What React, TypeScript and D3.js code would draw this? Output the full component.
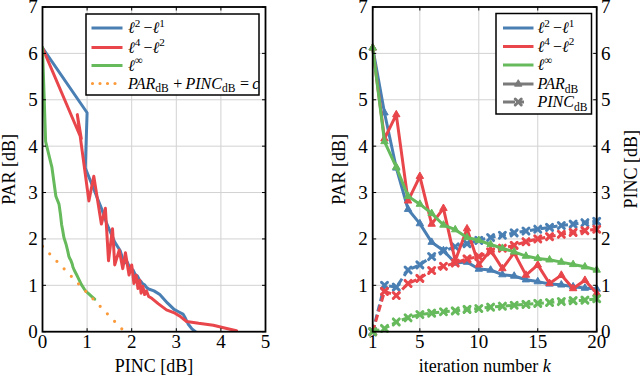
import React from 'react';
import * as d3 from 'd3';

// ---------- data ----------
const iterK = [1, 2, 3, 4, 5, 6, 7, 8, 9, 10, 11, 12, 13, 14, 15, 16, 17, 18, 19, 20];

const bluePar = [6.12, 4.72, 3.53, 2.64, 2.33, 1.93, 1.75, 1.48, 1.5, 1.35, 1.33, 1.23, 1.2, 1.12, 1.08, 1.03, 1.01, 0.97, 0.94, 0.92];
const bluePinc = [0, 1.0, 0.96, 1.33, 1.44, 1.62, 1.74, 1.83, 1.9, 1.97, 2.03, 2.08, 2.13, 2.17, 2.21, 2.25, 2.29, 2.32, 2.35, 2.38];
const redPar = [6.12, 4.16, 4.68, 2.82, 3.35, 2.32, 2.66, 1.53, 2.22, 1.44, 1.76, 1.36, 1.7, 1.22, 1.44, 1.04, 1.22, 0.93, 1.11, 0.83];
const redPinc = [0, 0.87, 0.78, 1.04, 1.15, 1.32, 1.41, 1.48, 1.57, 1.62, 1.72, 1.8, 1.86, 1.94, 2.0, 2.05, 2.1, 2.14, 2.18, 2.21];
const greenPar = [6.12, 4.1, 3.55, 2.92, 2.75, 2.55, 2.3, 2.2, 2.03, 1.97, 1.88, 1.8, 1.72, 1.63, 1.58, 1.55, 1.5, 1.45, 1.4, 1.33];
const greenPinc = [0, 0.07, 0.21, 0.3, 0.37, 0.4, 0.43, 0.45, 0.48, 0.5, 0.53, 0.55, 0.57, 0.59, 0.61, 0.63, 0.65, 0.67, 0.68, 0.71];

// later iterations (only shown in the PAR vs PINC trade-off plot)
const blueTailPinc = [2.5, 2.63, 2.8, 2.95, 3.05, 3.15, 3.2, 3.27, 3.35, 3.43];
const blueTailPar = [0.88, 0.8, 0.62, 0.48, 0.43, 0.38, 0.3, 0.16, 0.06, 0];
const redTailPinc = [2.25, 2.29, 2.33, 2.38, 2.45, 2.6, 2.78, 2.97, 3.1, 3.23, 3.5, 3.83, 4.13, 4.35];
const redTailPar = [0.98, 0.8, 0.88, 0.76, 0.72, 0.6, 0.47, 0.4, 0.32, 0.22, 0.18, 0.14, 0.07, 0.02];
const greenTailPinc = [0.78, 0.87, 0.95, 1.02, 1.1, 1.17];
const greenTailPar = [1.2, 1.02, 0.9, 0.83, 0.76, 0.7];

const boundPinc = [0, 1.84];
const boundPar = [1.84, 0];

const leftXTicks = [0, 1, 2, 3, 4, 5];
const rightXTicks = [1, 5, 10, 15, 20];
const yTicks = [0, 1, 2, 3, 4, 5, 6, 7];

// ---------- style ----------
const C = {
  blue: '#4a7fb3',
  red: '#e8464b',
  green: '#66ba5c',
  orange: '#fb9a3a',
  gray: '#7a7a7a',
  grid: '#d2d2d2',
};
const FONT = 'Liberation Serif';
const TICK_FS = 19;
const LABEL_FS = 18;
const LEG_FS = 16;

const zip = (a: number[], b: number[]) => a.map((v, i) => [v, b[i]] as [number, number]);

const top = 7;
const bottom = 331.7;

const xL = d3.scaleLinear().domain([0, 5]).range([42.5, 265.5]);
const xR = d3.scaleLinear().domain([1, 20]).range([372.7, 596.7]);
const y = d3.scaleLinear().domain([0, 7]).range([bottom, top]);

function T(props: any) {
  return <text fontFamily={FONT} {...props} />;
}

function Grid({ x0, x1, xTicks, xs }: any) {
  return (
    <g>
      {xTicks.map((t: number) => (
        <line key={'gx' + t} x1={xs(t)} x2={xs(t)} y1={top} y2={bottom} stroke={C.grid} strokeWidth={1} />
      ))}
      {yTicks.map((t) => (
        <line key={'gy' + t} x1={x0} x2={x1} y1={y(t)} y2={y(t)} stroke={C.grid} strokeWidth={1} />
      ))}
    </g>
  );
}

function FrameTop({ x0, x1, xTicks, xs }: any) {
  const tl = 3.5;
  return (
    <g>
      {xTicks.map((t: number) => (
        <g key={'tx' + t}>
          <line x1={xs(t)} x2={xs(t)} y1={bottom} y2={bottom - tl} stroke="#000" strokeWidth={1} />
          <line x1={xs(t)} x2={xs(t)} y1={top} y2={top + tl} stroke="#000" strokeWidth={1} />
        </g>
      ))}
      {yTicks.map((t) => (
        <g key={'ty' + t}>
          <line x1={x0} x2={x0 + tl} y1={y(t)} y2={y(t)} stroke="#000" strokeWidth={1} />
          <line x1={x1} x2={x1 - tl} y1={y(t)} y2={y(t)} stroke="#000" strokeWidth={1} />
        </g>
      ))}
      <rect x={x0} y={top} width={x1 - x0} height={bottom - top} fill="none" stroke="#000" strokeWidth={1.8} />
    </g>
  );
}

function Ell({ sup }: { sup: string }) {
  return (
    <>
      <tspan fontStyle="italic">ℓ</tspan>
      <tspan dy={-6.5} fontSize={LEG_FS * 0.7}>{sup}</tspan>
      <tspan dy={6.5}>{'\u2009'}</tspan>
    </>
  );
}

function Sub({ text }: { text: string }) {
  return (
    <>
      <tspan dy={3.5} fontSize={LEG_FS * 0.72}>{text}</tspan>
      <tspan dy={-3.5}>{'\u200A'}</tspan>
    </>
  );
}

function Triangle({ cx, cy, color, r = 4.3 }: any) {
  const p = `M${cx},${cy - r} L${cx + r * 0.866},${cy + r * 0.5} L${cx - r * 0.866},${cy + r * 0.5} Z`;
  return <path d={p} fill={color} stroke={color} strokeWidth={1} strokeLinejoin="round" />;
}

function Cross({ cx, cy, color, r = 3 }: any) {
  return (
    <g stroke={color} strokeWidth={3} strokeLinecap="round">
      <line x1={cx - r} y1={cy - r} x2={cx + r} y2={cy + r} />
      <line x1={cx - r} y1={cy + r} x2={cx + r} y2={cy - r} />
    </g>
  );
}

export default function App() {
  const lineL = d3
    .line<[number, number]>()
    .x((d) => xL(d[0]))
    .y((d) => y(d[1]));
  const lineR = d3
    .line<[number, number]>()
    .x((d) => xR(d[0]))
    .y((d) => y(d[1]));

  const leftSeries = [
    { color: C.blue, pts: zip(bluePinc.concat(blueTailPinc), bluePar.concat(blueTailPar)) },
    { color: C.red, pts: zip(redPinc.concat(redTailPinc), redPar.concat(redTailPar)) },
    { color: C.green, pts: zip(greenPinc.concat(greenTailPinc), greenPar.concat(greenTailPar)) },
  ];

  const rightSeries = [
    { color: C.blue, par: bluePar, pinc: bluePinc },
    { color: C.red, par: redPar, pinc: redPinc },
    { color: C.green, par: greenPar, pinc: greenPinc },
  ];

  const lw = 3;

  const lgL = { x: 86, y: 14, w: 173, h: 81, rows: [28, 47.5, 65.5, 83.5], lx0: 91.5, lx1: 122.5, tx: 128 };
  const lgR = { x: 496, y: 13.5, w: 95.5, h: 100.5, rows: [28, 46.5, 65, 84, 102], lx0: 503, lx1: 533.5, tx: 537.5 };

  return (
    <svg width={640} height={377} style={{ position: 'absolute', left: 0, top: 0, background: '#fff' }}>
      <rect x={0} y={0} width={640} height={377} fill="#fff" />

      {/* ---------------- LEFT PLOT ---------------- */}
      <Grid x0={xL.range()[0]} x1={xL.range()[1]} xTicks={leftXTicks} xs={xL} />
      <defs>
        <clipPath id="clipL">
          <rect x={xL.range()[0]} y={top} width={xL.range()[1] - xL.range()[0]} height={bottom - top} />
        </clipPath>
        <clipPath id="clipR">
          <rect x={xR.range()[0] - 6} y={top - 6} width={xR.range()[1] - xR.range()[0] + 12} height={bottom - top + 12} />
        </clipPath>
      </defs>
      <g clipPath="url(#clipL)">
        {leftSeries.map((s, i) => (
          <path
            key={i}
            d={lineL(s.pts) || ''}
            fill="none"
            stroke={s.color}
            strokeWidth={lw}
            strokeLinejoin="round"
            strokeLinecap="round"
          />
        ))}
        <path
          d={lineL(zip(boundPinc, boundPar)) || ''}
          fill="none"
          stroke={C.orange}
          strokeWidth={3.2}
          strokeDasharray="0 10.4"
          strokeLinecap="round"
        />
      </g>
      <FrameTop x0={xL.range()[0]} x1={xL.range()[1]} xTicks={leftXTicks} xs={xL} />
      {leftXTicks.map((t) => (
        <T key={'lx' + t} x={xL(t)} y={348.3} fontSize={TICK_FS} textAnchor="middle">
          {t}
        </T>
      ))}
      {yTicks.map((t) => (
        <T key={'ly' + t} x={37.8} y={y(t)} dy="0.34em" fontSize={TICK_FS} textAnchor="end">
          {t}
        </T>
      ))}
      <T x={(xL.range()[0] + xL.range()[1]) / 2} y={372} fontSize={LABEL_FS} textAnchor="middle">
        PINC [dB]
      </T>
      <T transform={`translate(15,${(top + bottom) / 2}) rotate(-90)`} fontSize={LABEL_FS} textAnchor="middle">
        PAR [dB]
      </T>

      {/* left legend */}
      <g>
        <rect x={lgL.x} y={lgL.y} width={lgL.w} height={lgL.h} fill="#fff" stroke="#000" strokeWidth={1.5} />
        {[C.blue, C.red, C.green].map((c, i) => (
          <line key={i} x1={lgL.lx0} x2={lgL.lx1} y1={lgL.rows[i]} y2={lgL.rows[i]} stroke={c} strokeWidth={lw} />
        ))}
        <line
          x1={lgL.lx0 + 1}
          x2={lgL.lx1}
          y1={lgL.rows[3]}
          y2={lgL.rows[3]}
          stroke={C.orange}
          strokeWidth={3.2}
          strokeDasharray="0 7.5"
          strokeLinecap="round"
        />
        <T x={lgL.tx} y={lgL.rows[0] + 5} fontSize={LEG_FS}>
          <Ell sup="2" />
          <tspan>−</tspan>
          <Ell sup="1" />
        </T>
        <T x={lgL.tx} y={lgL.rows[1] + 5} fontSize={LEG_FS}>
          <Ell sup="4" />
          <tspan>−</tspan>
          <Ell sup="2" />
        </T>
        <T x={lgL.tx} y={lgL.rows[2] + 5} fontSize={LEG_FS}>
          <Ell sup="∞" />
        </T>
        <T x={lgL.tx} y={lgL.rows[3] + 5} fontSize={LEG_FS}>
          <tspan fontStyle="italic">PAR</tspan>
          <Sub text="dB" />
          <tspan>{'\u2009+\u2009'}</tspan>
          <tspan fontStyle="italic">PINC</tspan>
          <Sub text="dB" />
          <tspan>{'\u2009=\u2009'}</tspan>
          <tspan fontStyle="italic">c</tspan>
        </T>
      </g>

      {/* ---------------- RIGHT PLOT ---------------- */}
      <Grid x0={xR.range()[0]} x1={xR.range()[1]} xTicks={rightXTicks} xs={xR} />
      <g clipPath="url(#clipR)">
        {rightSeries.map((s, i) => {
          const parPts = zip(iterK, s.par);
          const pincPts = zip(iterK, s.pinc);
          return (
            <g key={i}>
              <path d={lineR(parPts) || ''} fill="none" stroke={s.color} strokeWidth={lw} strokeLinejoin="round" />
              {parPts.map((p, j) => (
                <Triangle key={j} cx={xR(p[0])} cy={y(p[1])} color={s.color} />
              ))}
              <path
                d={lineR(pincPts) || ''}
                fill="none"
                stroke={s.color}
                strokeWidth={lw}
                strokeDasharray="7 3.5"
                strokeLinejoin="round"
              />
              {pincPts.map((p, j) => (
                <Cross key={j} cx={xR(p[0])} cy={y(p[1])} color={s.color} />
              ))}
            </g>
          );
        })}
      </g>
      <FrameTop x0={xR.range()[0]} x1={xR.range()[1]} xTicks={rightXTicks} xs={xR} />
      {rightXTicks.map((t) => (
        <T key={'rx' + t} x={xR(t)} y={348.3} fontSize={TICK_FS} textAnchor="middle">
          {t}
        </T>
      ))}
      {yTicks.map((t) => (
        <T key={'ry' + t} x={367.8} y={y(t)} dy="0.34em" fontSize={TICK_FS} textAnchor="end">
          {t}
        </T>
      ))}
      {yTicks.map((t) => (
        <T key={'ry2' + t} x={601} y={y(t)} dy="0.34em" fontSize={TICK_FS} textAnchor="start">
          {t}
        </T>
      ))}
      <T x={(xR.range()[0] + xR.range()[1]) / 2} y={372} fontSize={LABEL_FS} textAnchor="middle">
        iteration number <tspan fontStyle="italic">k</tspan>
      </T>
      <T transform={`translate(345,${(top + bottom) / 2}) rotate(-90)`} fontSize={LABEL_FS} textAnchor="middle">
        PAR [dB]
      </T>
      <T transform={`translate(636.5,${(top + bottom) / 2}) rotate(-90)`} fontSize={LABEL_FS} textAnchor="middle">
        PINC [dB]
      </T>

      {/* right legend */}
      <g>
        <rect x={lgR.x} y={lgR.y} width={lgR.w} height={lgR.h} fill="#fff" stroke="#000" strokeWidth={1.5} />
        {[C.blue, C.red, C.green].map((c, i) => (
          <line key={i} x1={lgR.lx0} x2={lgR.lx1} y1={lgR.rows[i]} y2={lgR.rows[i]} stroke={c} strokeWidth={lw} />
        ))}
        <line x1={lgR.lx0} x2={lgR.lx1} y1={lgR.rows[3]} y2={lgR.rows[3]} stroke={C.gray} strokeWidth={lw} />
        <Triangle cx={(lgR.lx0 + lgR.lx1) / 2} cy={lgR.rows[3]} color={C.gray} />
        <line
          x1={lgR.lx0}
          x2={lgR.lx1}
          y1={lgR.rows[4]}
          y2={lgR.rows[4]}
          stroke={C.gray}
          strokeWidth={lw}
          strokeDasharray="12 4 5 100"
        />
        <Cross cx={(lgR.lx0 + lgR.lx1) / 2} cy={lgR.rows[4]} color={C.gray} />
        <T x={lgR.tx} y={lgR.rows[0] + 5} fontSize={LEG_FS}>
          <Ell sup="2" />
          <tspan>−</tspan>
          <Ell sup="1" />
        </T>
        <T x={lgR.tx} y={lgR.rows[1] + 5} fontSize={LEG_FS}>
          <Ell sup="4" />
          <tspan>−</tspan>
          <Ell sup="2" />
        </T>
        <T x={lgR.tx} y={lgR.rows[2] + 5} fontSize={LEG_FS}>
          <Ell sup="∞" />
        </T>
        <T x={lgR.tx} y={lgR.rows[3] + 5} fontSize={LEG_FS}>
          <tspan fontStyle="italic">PAR</tspan>
          <Sub text="dB" />
        </T>
        <T x={lgR.tx} y={lgR.rows[4] + 5} fontSize={LEG_FS}>
          <tspan fontStyle="italic">PINC</tspan>
          <Sub text="dB" />
        </T>
      </g>
    </svg>
  );
}
